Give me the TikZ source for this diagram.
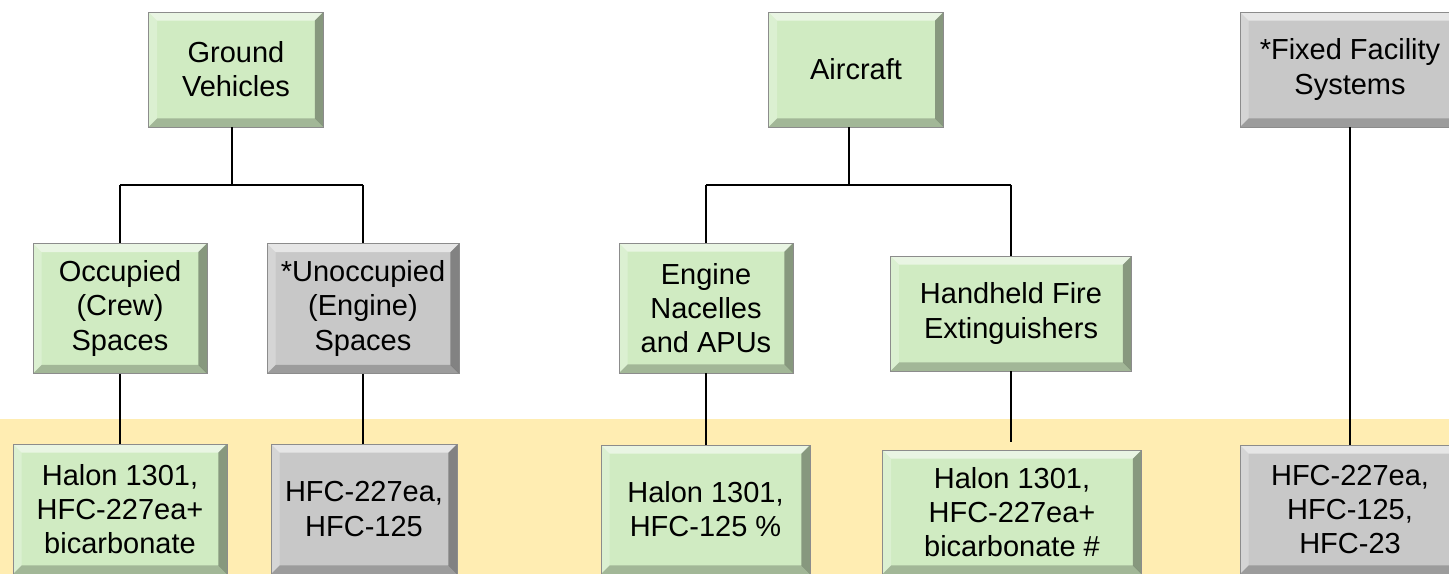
\documentclass[tikz,border=0pt]{standalone}
\usepackage{fontspec}
\setmainfont{Liberation Sans}
\usepackage{tikz}
\usetikzlibrary{positioning}
\definecolor{boxgreen}{RGB}{208,235,194}
\definecolor{boxgray}{RGB}{200,200,200}
\definecolor{bandyellow}{RGB}{255,237,178}

\begin{document}
\begin{tikzpicture}[x=0.02cm,y=-0.02cm,
  bx/.style={draw=black!45,line width=.5pt,align=center,inner sep=0pt,
    font=\fontsize{16.5}{19.5}\selectfont,fill=#1,
    path picture={
      \coordinate (bnw) at (path picture bounding box.north west);
      \coordinate (bne) at (path picture bounding box.north east);
      \coordinate (bsw) at (path picture bounding box.south west);
      \coordinate (bse) at (path picture bounding box.south east);
      \fill[white,opacity=.55] (bnw) -- (bne) -- ([shift={(-.17cm,-.17cm)}]bne) -- ([shift={(.17cm,-.17cm)}]bnw) -- cycle;
      \fill[white,opacity=.25] (bnw) -- ([shift={(.17cm,-.17cm)}]bnw) -- ([shift={(.17cm,.17cm)}]bsw) -- (bsw) -- cycle;
      \fill[black,opacity=.35] (bne) -- (bse) -- ([shift={(-.17cm,.17cm)}]bse) -- ([shift={(-.17cm,-.17cm)}]bne) -- cycle;
      \fill[black,opacity=.22] (bsw) -- (bse) -- ([shift={(-.17cm,.17cm)}]bse) -- ([shift={(.17cm,.17cm)}]bsw) -- cycle;
    }},
  bx/.default=boxgreen,
  link/.style={draw,line width=.6pt},
  bar/.style={draw,line width=1pt}]
  \useasboundingbox (0,0) rectangle (1449,574);
  \clip (0,0) rectangle (1449,574);
  \fill[bandyellow] (0,419) rectangle (1449,574);

  \node[bx,minimum width=3.5cm,minimum height=2.3cm] (gv) at (236,69.5) {Ground\\Vehicles};
  \node[bx,minimum width=3.5cm,minimum height=2.3cm] (air) at (856,69.5) {Aircraft};
  \node[bx=boxgray,minimum width=4.4cm,minimum height=2.3cm] (ffs) at (1350,69.5) {*Fixed Facility\\Systems};

  \node[bx,minimum width=3.48cm,minimum height=2.6cm] (occ) at (120,308.5) {Occupied\\(Crew)\\Spaces};
  \node[bx=boxgray,minimum width=3.84cm,minimum height=2.6cm] (unocc) at (363,308.5) {*Unoccupied\\(Engine)\\Spaces};
  \node[bx,minimum width=3.48cm,minimum height=2.6cm] (eng) at (706,308) {Engine\\Nacelles\\and APUs};
  \node[bx,minimum width=4.82cm,minimum height=2.3cm] (hand) at (1011,313.5) {Handheld Fire\\Extinguishers};

  \node[bx,minimum width=4.28cm,minimum height=2.6cm] (res1) at (120,509) {Halon 1301,\\HFC-227ea+\\bicarbonate};
  \node[bx=boxgray,minimum width=3.72cm,minimum height=2.6cm] (res2) at (364,509) {HFC-227ea,\\HFC-125};
  \node[bx,minimum width=4.18cm,minimum height=2.58cm] (res3) at (705.5,509.5) {Halon 1301,\\HFC-125 \%};
  \node[bx,minimum width=5.18cm,minimum height=2.48cm] (res4) at (1012,512) {Halon 1301,\\HFC-227ea+\\bicarbonate \#};
  \node[bx=boxgray,minimum width=4.4cm,minimum height=2.58cm] (res5) at (1350,509.5) {HFC-227ea,\\HFC-125,\\HFC-23};

  \coordinate (gvj) at (232,185);
  \coordinate (airj) at (849,185);
  \draw[link] (gv.south -| gvj) -- (gvj);
  \draw[link] (air.south -| airj) -- (airj);
  \draw[bar] (occ.north |- gvj) -- (unocc.north |- gvj);
  \draw[bar] (eng.north |- airj) -- (hand.north |- airj);
  \foreach \a/\j in {occ/gvj,unocc/gvj,eng/airj,hand/airj}
    \draw[link] (\a.north |- \j) -- (\a.north);
  \foreach \a/\b in {occ/res1,unocc/res2,eng/res3,ffs/res5}
    \draw[link] (\a.south) -- (\a.south |- \b.north);
  \draw[link,shorten >=.16cm] (hand.south) -- (hand.south |- res4.north);
\end{tikzpicture}
\end{document}
